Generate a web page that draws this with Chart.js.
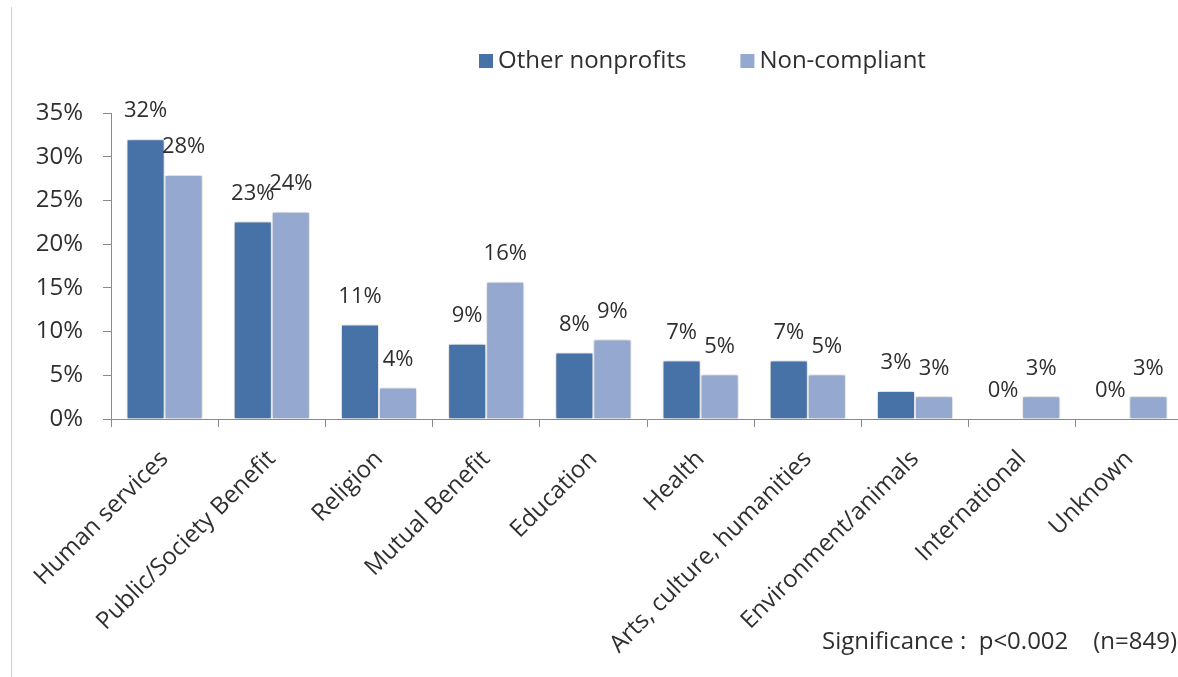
<!DOCTYPE html>
<html>
<head>
<meta charset="utf-8">
<script src="https://cdn.jsdelivr.net/npm/chart.js@4/dist/chart.umd.min.js"></script>
<style>
  html, body { margin: 0; padding: 0; background: #fff; overflow: hidden; width: 1178px; height: 677px; }
  #wrap { position: relative; width: 1200px; height: 677px; }
  #frame { position: absolute; left: 11px; top: 7px; width: 1px; height: 670px; background: #cfcfcf; }
  canvas { position: absolute; left: 0; top: 0; }
</style>
</head>
<body>
<div id="wrap">
  <div id="frame"></div>
  <canvas id="chart" width="1200" height="677"></canvas>
</div>
<script>
// Share of organisations by field (percent)
const categories = [
  'Human services', 'Public/Society Benefit', 'Religion', 'Mutual Benefit', 'Education',
  'Health', 'Arts, culture, humanities', 'Environment/animals', 'International', 'Unknown'
];
const otherNonprofits = [32.0, 22.6, 10.8, 8.6, 7.6, 6.7, 6.7, 3.2, 0, 0];
const nonCompliant    = [27.9, 23.7, 3.6, 15.7, 9.1, 5.1, 5.1, 2.6, 2.6, 2.6];
const seriesNames = ['Other nonprofits', 'Non-compliant'];
const seriesColors = ['#4672a8', '#95a9d0'];
const yTicks = [0, 5, 10, 15, 20, 25, 30, 35];
const footnote = 'Significance :  p<0.002    (n=849)';

const FONT = "'Open Sans', 'Noto Sans', sans-serif";
const TEXT = '#2f2f2f';
const AXIS = '#8a8a8a';

// Soft shadow behind bars, value labels, legend and footnote
const decorations = {
  id: 'decorations',
  beforeDatasetsDraw(chart) {
    const ctx = chart.ctx;
    ctx.save();
    ctx.shadowColor = 'rgba(0,0,0,0.3)';
    ctx.shadowBlur = 5;
  },
  afterDatasetsDraw(chart) {
    const ctx = chart.ctx;
    ctx.restore();
    ctx.save();
    ctx.font = `22px ${FONT}`;
    ctx.fillStyle = TEXT;
    ctx.textAlign = 'center';
    ctx.textBaseline = 'middle';
    chart.data.datasets.forEach((ds, i) => {
      chart.getDatasetMeta(i).data.forEach((bar, j) => {
        ctx.fillText(Math.round(ds.data[j]) + '%', bar.x, bar.y - 28);
      });
    });
    ctx.restore();
  },
  afterDraw(chart) {
    const ctx = chart.ctx;
    ctx.save();
    // legend
    ctx.font = `24px ${FONT}`;
    ctx.textBaseline = 'middle';
    ctx.textAlign = 'left';
    let x = 479;
    const cy = 61;
    chart.data.datasets.forEach((ds) => {
      ctx.fillStyle = ds.backgroundColor;
      ctx.fillRect(x, cy - 7, 14, 14);
      ctx.fillStyle = TEXT;
      ctx.fillText(ds.label, x + 19, cy);
      x += 19 + ctx.measureText(ds.label).width + 54;
    });
    // footnote
    ctx.font = `24px ${FONT}`;
    ctx.textAlign = 'right';
    ctx.fillText(footnote, 1177, 642);
    ctx.restore();
  }
};

new Chart(document.getElementById('chart'), {
  type: 'bar',
  data: {
    labels: categories,
    datasets: [
      { label: seriesNames[0], data: otherNonprofits, backgroundColor: seriesColors[0] },
      { label: seriesNames[1], data: nonCompliant, backgroundColor: seriesColors[1] }
    ]
  },
  options: {
    responsive: false,
    animation: false,
    devicePixelRatio: 1,
    layout: { padding: { top: 113, right: 17, bottom: 0, left: 0 } },
    datasets: {
      bar: {
        categoryPercentage: 0.71,
        barPercentage: 1.0,
        borderColor: '#ffffff',
        borderWidth: 1
      }
    },
    plugins: {
      legend: { display: false },
      tooltip: { enabled: false },
      title: { display: false }
    },
    scales: {
      x: {
        grid: { display: true, drawOnChartArea: false, drawTicks: true, tickLength: 8, color: AXIS, offset: true },
        border: { display: true, color: AXIS, width: 1 },
        ticks: {
          color: TEXT,
          font: { family: FONT, size: 24 },
          minRotation: 45,
          maxRotation: 45,
          autoSkip: false,
          padding: 18
        },
        afterFit(scale) { scale.height = 258; }
      },
      y: {
        min: 0,
        max: 35,
        afterBuildTicks(scale) { scale.ticks = yTicks.map(v => ({ value: v })); },
        grid: { display: true, drawOnChartArea: false, drawTicks: true, tickLength: 8, color: AXIS },
        border: { display: true, color: AXIS, width: 1 },
        ticks: {
          color: TEXT,
          font: { family: FONT, size: 24 },
          padding: 20,
          callback: (v) => v + '%'
        },
        afterFit(scale) { scale.width = 111; }
      }
    }
  },
  plugins: [decorations]
});
</script>
</body>
</html>
